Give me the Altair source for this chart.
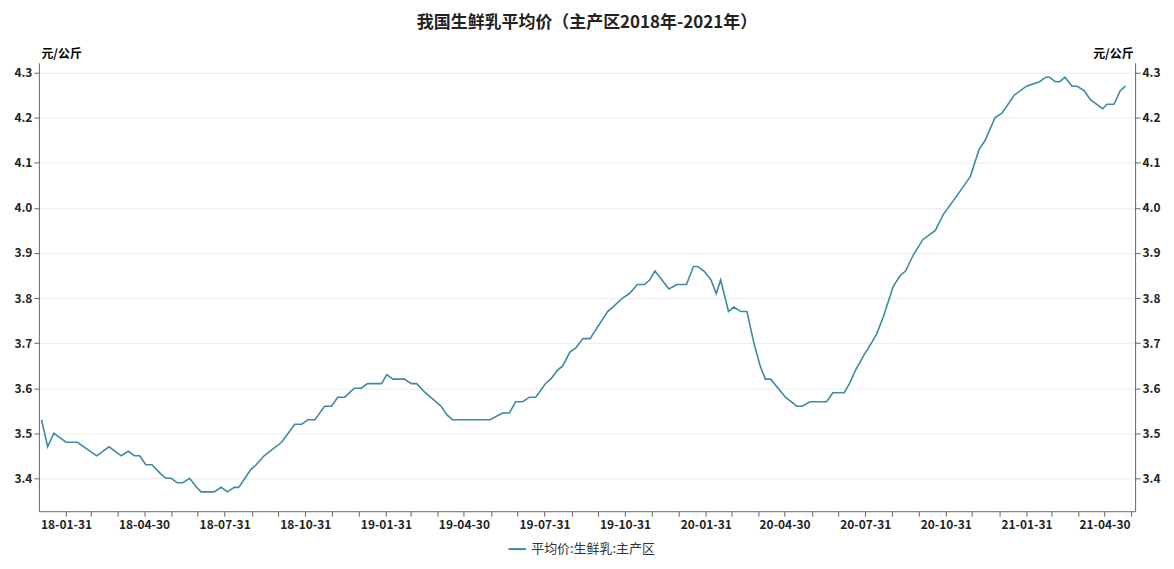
import altair as alt
import pandas as pd

dates = ["2018-01-03","2018-01-10","2018-01-17","2018-01-31","2018-02-13","2018-03-07","2018-03-21","2018-04-04","2018-04-12","2018-04-19","2018-04-25","2018-05-02","2018-05-09","2018-05-19","2018-05-25","2018-05-31","2018-06-07","2018-06-13","2018-06-21","2018-06-29","2018-07-04","2018-07-19","2018-07-27","2018-08-03","2018-08-11","2018-08-16","2018-08-30","2018-09-05","2018-09-14","2018-10-04","2018-10-19","2018-10-27","2018-11-03","2018-11-11","2018-11-22","2018-11-30","2018-12-07","2018-12-15","2018-12-26","2019-01-03","2019-01-10","2019-01-26","2019-02-01","2019-02-08","2019-02-21","2019-03-01","2019-03-07","2019-03-17","2019-04-04","2019-04-11","2019-04-17","2019-05-30","2019-06-13","2019-06-21","2019-06-28","2019-07-06","2019-07-14","2019-07-21","2019-08-01","2019-08-07","2019-08-15","2019-08-21","2019-08-29","2019-09-05","2019-09-13","2019-09-21","2019-10-11","2019-10-17","2019-10-28","2019-11-05","2019-11-14","2019-11-22","2019-11-28","2019-12-04","2019-12-20","2019-12-29","2020-01-09","2020-01-17","2020-01-22","2020-01-29","2020-02-06","2020-02-12","2020-02-17","2020-02-26","2020-03-03","2020-03-11","2020-03-18","2020-03-26","2020-04-02","2020-04-08","2020-04-14","2020-05-01","2020-05-14","2020-05-20","2020-05-29","2020-06-17","2020-06-24","2020-07-07","2020-07-13","2020-07-20","2020-07-30","2020-08-04","2020-08-13","2020-08-21","2020-09-01","2020-09-09","2020-09-15","2020-09-24","2020-10-05","2020-10-19","2020-10-28","2020-11-10","2020-11-21","2020-11-28","2020-12-08","2020-12-15","2020-12-26","2021-01-03","2021-01-17","2021-01-31","2021-02-15","2021-02-22","2021-02-26","2021-03-05","2021-03-10","2021-03-16","2021-03-24","2021-03-30","2021-04-07","2021-04-14","2021-04-28","2021-05-03","2021-05-11","2021-05-18","2021-05-24"]
values = [3.53,3.47,3.50,3.48,3.48,3.45,3.47,3.45,3.46,3.45,3.45,3.43,3.43,3.41,3.40,3.40,3.39,3.39,3.40,3.38,3.37,3.37,3.38,3.37,3.38,3.38,3.42,3.43,3.45,3.48,3.52,3.52,3.53,3.53,3.56,3.56,3.58,3.58,3.60,3.60,3.61,3.61,3.63,3.62,3.62,3.61,3.61,3.59,3.56,3.54,3.53,3.53,3.545,3.545,3.57,3.57,3.58,3.58,3.61,3.62,3.64,3.65,3.68,3.69,3.71,3.71,3.77,3.78,3.80,3.81,3.83,3.83,3.84,3.86,3.82,3.83,3.83,3.87,3.87,3.86,3.84,3.81,3.84,3.77,3.78,3.77,3.77,3.70,3.65,3.62,3.62,3.58,3.56,3.56,3.57,3.57,3.59,3.59,3.61,3.64,3.675,3.69,3.72,3.76,3.826,3.85,3.86,3.896,3.93,3.95,3.985,4.02,4.05,4.07,4.13,4.15,4.20,4.21,4.25,4.27,4.28,4.29,4.29,4.28,4.28,4.29,4.27,4.27,4.26,4.24,4.22,4.23,4.23,4.26,4.27]
series_name = "平均价:生鲜乳:主产区"
y_ticks = [3.4, 3.5, 3.6, 3.7, 3.8, 3.9, 4.0, 4.1, 4.2, 4.3]

df = pd.DataFrame({"date": dates, "value": values, "series": series_name})

month_ends = [d.strftime("%Y-%m-%d") for d in pd.date_range("2018-01-31", "2021-05-31", freq="ME")]
xvals = [alt.DateTime(year=int(s[:4]), month=int(s[5:7]), date=int(s[8:]), utc=True) for s in month_ends]

FONT = "Noto Sans CJK SC"
x = alt.X("date:T", scale=alt.Scale(type="utc", domain=["2017-12-31", "2021-06-04"]),
          axis=alt.Axis(values=xvals, title=None, grid=False, labelExpr="utcmonth(datum.value) % 3 == 0 ? utcFormat(datum.value, '%y-%m-%d') : ''",
                        labelFontWeight="bold", labelFontSize=12, labelColor="#222", domainColor="#666", tickColor="#666",
                        tickSize=5, labelPadding=3, labelFlush=False))
ysc = alt.Scale(domain=[3.327, 4.322], nice=False, zero=False)

left = alt.Chart(df).mark_line(strokeWidth=1.6).encode(
    x=x,
    y=alt.Y("value:Q", scale=ysc, axis=alt.Axis(orient="left", values=y_ticks, format=".1f", title="元/公斤",
            titleAngle=0, titleAlign="left", titleBaseline="bottom", titleX=2, titleY=-2, titleFontSize=12, titleFontWeight="bold",
            labelFontWeight="bold", labelFontSize=12, labelColor="#222", domainColor="#666", tickColor="#666",
            gridColor="#ececec", tickSize=5)),
    color=alt.Color("series:N", scale=alt.Scale(range=["#3d8aa3"]),
                    legend=alt.Legend(orient="none", legendX=470, legendY=478, title=None, symbolType="stroke", symbolStrokeWidth=2, symbolSize=300,
                                      labelFontSize=13, labelFont=FONT, labelColor="#333")),
)
right = alt.Chart(df).mark_line(opacity=0).encode(
    x=x,
    y=alt.Y("value:Q", scale=ysc, axis=alt.Axis(orient="right", values=y_ticks, format=".1f", title="元/公斤", grid=False,
            titleAngle=0, titleAlign="right", titleBaseline="bottom", titleX=-2, titleY=-2, titleFontSize=12, titleFontWeight="bold",
            labelFontWeight="bold", labelFontSize=12, labelColor="#222", domainColor="#666", tickColor="#666", tickSize=5)),
)

chart = alt.layer(left, right).resolve_scale(y="independent").properties(
    width=1100, height=450,
    title=alt.TitleParams("我国生鲜乳平均价（主产区2018年-2021年）", fontSize=17, fontWeight="bold", font=FONT, color="#222", offset=16),
).configure(font=FONT).configure_view(stroke=None)

chart.save("out.html", embed_options={"renderer": "svg", "actions": False})
